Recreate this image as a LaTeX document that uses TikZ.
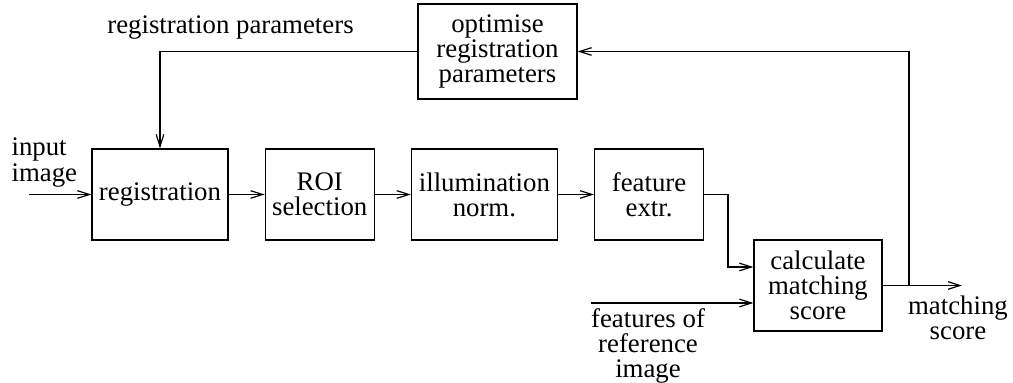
\documentclass[tikz,border=0pt]{standalone}
\usepackage{fontspec}
\setmainfont{Liberation Serif}
\usepackage{tikz}
\usetikzlibrary{arrows.meta, positioning}

\begin{document}
\begin{tikzpicture}[x=0.5pt,y=-0.5pt,line width=0.6pt,
                    >={Straight Barb[length=6pt,width=3.8pt]},
                    every node/.style={font=\fontsize{13.4}{12.4}\selectfont},
                    block node/.style={rectangle,draw,align=center,inner sep=0pt,minimum height=45.5pt},
                    label node/.style={align=center,inner sep=0pt}]
  \useasboundingbox (0,0) rectangle (1013,383);

  % main chain
  \node[block node,minimum width=68pt] (reg) at (160,194.5) {registration};
  \node[block node,minimum width=54.5pt] (roi) [right=18pt of reg] {ROI\\selection};
  \node[block node,minimum width=73pt] (illum) [right=18pt of roi] {illumination\\norm.};
  \node[block node,minimum width=54.5pt] (feat) [right=18pt of illum] {feature\\extr.};
  \node[block node,minimum width=64pt] (calc) at (818,285.5) {calculate\\matching\\score};
  \node[block node,minimum width=79.5pt,minimum height=47.5pt] (opt) at (497.5,51.5) {optimise\\registration\\parameters};

  % texts
  \node[label node,align=left,anchor=west,font=\fontsize{13.4}{13}\selectfont] (inlab) at (11,163) {input\\image};
  \node[label node] (parlab) at (230.5,28) {registration parameters};
  \node[label node] (reflab) at (648,346) {features of\\reference\\image};
  \node[label node] (outlab) at (958,318) {matching\\score};

  \coordinate (in) at (29,194.5);
  \coordinate (refin) at (591,303);
  \coordinate (fbend) at (728,267);
  \coordinate (tap) at (909,285.5);
  \coordinate (out) at (962,285.5);

  \path[->]
    (in) edge (reg)
    (reg) edge (roi)
    (roi) edge (illum)
    (illum) edge (feat)
    (refin) edge (refin -| calc.west)
    (calc.east) edge (out);

  \draw[->] (feat.east) -| (fbend) -- (fbend -| calc.west);
  \draw[->] (tap) |- (opt.east);
  \draw[->] (opt.west) -| (reg.north);

\end{tikzpicture}
\end{document}
